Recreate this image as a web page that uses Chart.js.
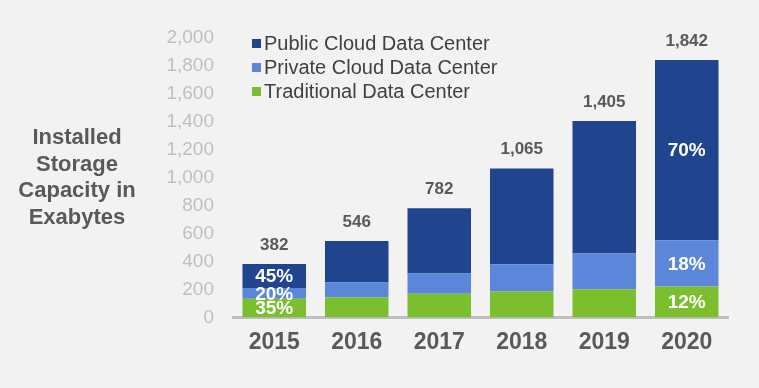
<!DOCTYPE html>
<html>
<head>
<meta charset="utf-8">
<script src="https://cdn.jsdelivr.net/npm/chart.js@4"></script>
<style>
  body { margin: 0; background: #f2f2f2; }
  #wrap { width: 759px; height: 388px; }
</style>
</head>
<body>
<div id="wrap"><canvas id="storageChart" width="759" height="388"></canvas></div>
<script>
const years = ['2015', '2016', '2017', '2018', '2019', '2020'];
const totals = [382, 546, 782, 1065, 1405, 1842];
const traditional = [134, 145, 169, 186, 202, 221];
const privateCloud = [76, 105, 145, 195, 255, 332];
const publicCloud = [172, 296, 468, 684, 948, 1289];
const pct2015 = ['35%', '20%', '45%']; // traditional, private, public
const pct2020 = ['12%', '18%', '70%'];
const titleLines = ['Installed', 'Storage', 'Capacity in', 'Exabytes'];

const FONT = '"Liberation Sans", Arial, sans-serif';

// labels, legend and side title
const extras = {
    id: 'extras',
    afterDatasetsDraw(chart) {
        const ctx = chart.ctx;
        ctx.save();
        ctx.textAlign = 'center';
        ctx.textBaseline = 'middle';

        // totals above bars
        const top = chart.getDatasetMeta(2).data;
        ctx.fillStyle = '#595959';
        ctx.font = 'bold 17px ' + FONT;
        top.forEach((bar, i) => {
            ctx.fillText(totals[i].toLocaleString('en-US'), bar.x, bar.y - 19);
        });

        // percentage labels inside first and last bar
        ctx.fillStyle = '#ffffff';
        ctx.font = 'bold 19px ' + FONT;
        [[0, pct2015], [5, pct2020]].forEach(([idx, pcts]) => {
            pcts.forEach((txt, d) => {
                const bar = chart.getDatasetMeta(d).data[idx];
                ctx.fillText(txt, bar.x, (bar.y + bar.base) / 2 + 1);
            });
        });

        // legend (top of stack first)
        ctx.textAlign = 'left';
        ctx.font = '20px ' + FONT;
        const order = [2, 1, 0];
        order.forEach((d, row) => {
            const ds = chart.data.datasets[d];
            const cy = 43.5 + row * 24;
            ctx.fillStyle = ds.backgroundColor;
            ctx.fillRect(252, cy - 4.5, 9, 9);
            ctx.fillStyle = '#404040';
            ctx.fillText(ds.label, 264, cy + 1);
        });

        // y axis title
        ctx.textAlign = 'center';
        ctx.fillStyle = '#595959';
        ctx.font = 'bold 22px ' + FONT;
        titleLines.forEach((line, i) => {
            ctx.fillText(line, 77, 138 + i * 26.5);
        });
        ctx.restore();
    }
};

const ctx = document.getElementById('storageChart').getContext('2d');
new Chart(ctx, {
    type: 'bar',
    data: {
        labels: years,
        datasets: [
            { label: 'Traditional Data Center', data: traditional, backgroundColor: '#7cbf2e' },
            { label: 'Private Cloud Data Center', data: privateCloud, backgroundColor: '#5b86d9' },
            { label: 'Public Cloud Data Center', data: publicCloud, backgroundColor: '#21448f' }
        ]
    },
    options: {
        responsive: false,
        animation: false,
        layout: { padding: { left: 150, right: 31, top: 38, bottom: 29 } },
        datasets: {
            bar: { categoryPercentage: 1, barPercentage: 0.77 }
        },
        scales: {
            x: {
                stacked: true,
                grid: { display: false },
                border: { color: '#bfbfbf', width: 3 },
                ticks: {
                    padding: 3,
                    color: '#595959',
                    font: { family: FONT, size: 23, weight: 'bold' }
                }
            },
            y: {
                stacked: true,
                min: 0,
                max: 2000,
                afterFit(scale) { scale.width = 83; },
                grid: { display: false, drawTicks: false },
                border: { display: false },
                ticks: {
                    stepSize: 200,
                    padding: 19,
                    color: '#bfbfbf',
                    font: { family: FONT, size: 19 },
                    callback: v => v.toLocaleString('en-US')
                }
            }
        },
        plugins: {
            legend: { display: false },
            tooltip: { enabled: false }
        }
    },
    plugins: [extras]
});
</script>
</body>
</html>
